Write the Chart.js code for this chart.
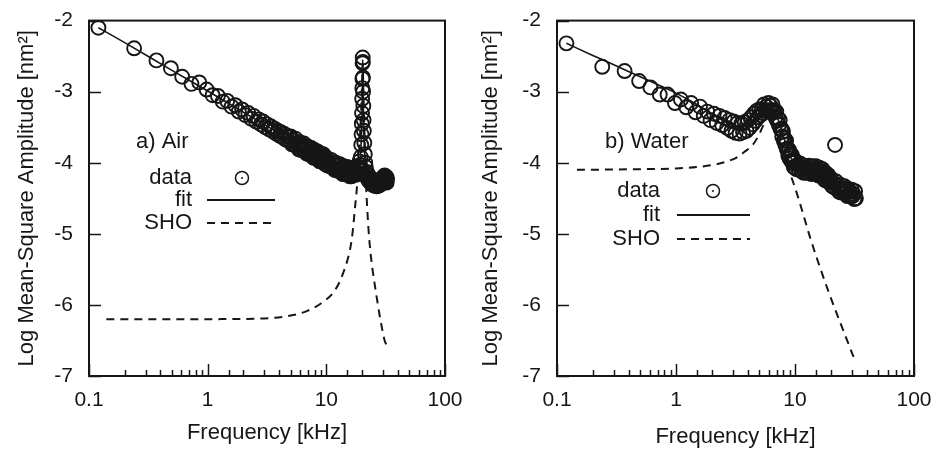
<!doctype html>
<html lang="en">
<head>
<meta charset="utf-8">
<title>Mean-square amplitude spectra</title>
<script src="https://cdn.jsdelivr.net/npm/chart.js@4.4.1/dist/chart.umd.min.js"></script>
<style>
  body { margin: 0; background: #fff; }
  .panel { position: absolute; top: 0; width: 469px; height: 453px; }
</style>
</head>
<body>
<div class="panel" style="left:0"><canvas id="air" width="469" height="453"></canvas></div>
<div class="panel" style="left:469px"><canvas id="water" width="469" height="453"></canvas></div>
<script>
// tick labels
const xTickLabels = [0.1, 1, 10, 100];
const yTickLabels = [-7, -6, -5, -4, -3, -2];

// a) Air - measured points
const airFreq = [0.12,0.24,0.37,0.49,0.61,0.73,0.85,0.98,1.10,1.22,1.34,1.46,1.59,1.71,1.83,1.95,2.08,2.20,2.32,2.44,
  2.56,2.69,2.81,2.93,3.05,3.17,3.30,3.42,3.54,3.66,3.78,3.91,4.03,4.15,4.27,4.39,4.52,4.64,4.76,4.88,
  5.00,5.13,5.25,5.37,5.49,5.62,5.74,5.86,5.98,6.10,6.23,6.35,6.47,6.59,6.71,6.84,6.96,7.08,7.20,7.32,
  7.45,7.57,7.69,7.81,7.93,8.06,8.18,8.30,8.42,8.54,8.67,8.79,8.91,9.03,9.15,9.28,9.40,9.52,9.64,9.77,9.89,
  10.0,10.25,10.5,10.75,11.0,11.25,11.5,11.75,12.0,12.25,12.5,12.75,13.0,13.25,13.5,13.75,14.0,14.25,14.5,14.75,
  15.0,15.25,15.5,15.75,16.0,16.25,16.5,16.75,17.0,17.25,17.5,17.75,18.0,18.25,18.5,18.75,19.0,19.25,19.5,
  19.7,19.8,19.9,20.0,20.05,20.1,20.15,20.2,20.25,20.3,20.35,20.4,20.5,20.6,20.7,20.9,21.1,21.3,
  21.5,21.75,22.0,22.25,22.5,22.75,23.0,23.25,23.5,23.75,24.0,24.25,24.5,24.75,25.0,25.25,25.5,25.75,26.0,26.25,
  26.5,26.75,27.0,27.25,27.5,27.75,28.0,28.25,28.5,28.75,29.0,29.25,29.5,29.75,30.0,30.25,30.5,30.75,31.0,31.25,
  31.5,31.75,32.0,32.25,32.5];
const airAmp = [-2.10,-2.39,-2.56,-2.67,-2.79,-2.89,-2.87,-2.97,-3.05,-3.06,-3.14,-3.13,-3.21,-3.19,-3.28,-3.25,-3.33,-3.30,-3.38,-3.34,
  -3.42,-3.39,-3.46,-3.42,-3.50,-3.46,-3.53,-3.49,-3.56,-3.52,-3.59,-3.55,-3.62,-3.57,-3.64,-3.59,-3.67,-3.62,-3.69,-3.64,
  -3.63,-3.74,-3.68,-3.75,-3.66,-3.76,-3.73,-3.81,-3.71,-3.82,-3.75,-3.82,-3.73,-3.83,-3.79,-3.87,-3.77,-3.88,-3.81,-3.88,
  -3.79,-3.88,-3.85,-3.93,-3.82,-3.93,-3.87,-3.93,-3.84,-3.93,-3.90,-3.98,-3.87,-3.98,-3.91,-3.98,-3.88,-3.98,-3.95,-4.02,-3.92,
  -3.93,-4.04,-3.98,-4.05,-3.96,-4.06,-4.02,-4.10,-4.00,-4.11,-4.04,-4.11,-4.02,-4.11,-4.08,-4.16,-4.05,-4.16,-4.09,-4.16,
  -4.06,-4.16,-4.12,-4.19,-4.09,-4.19,-4.12,-4.17,-4.07,-4.15,-4.11,-4.17,-4.05,-4.14,-4.06,-4.10,-3.98,-4.03,-3.92,
  -3.75,-3.60,-3.45,-3.30,-3.10,-2.95,-2.82,-2.60,-2.52,-2.58,-2.80,-3.00,-3.20,-3.40,-3.55,-3.72,-3.88,-4.00,
  -4.06,-4.15,-4.13,-4.22,-4.17,-4.25,-4.20,-4.27,-4.21,-4.29,-4.23,-4.30,-4.24,-4.31,-4.25,-4.32,-4.26,-4.32,-4.26,-4.33,
  -4.26,-4.33,-4.26,-4.32,-4.26,-4.32,-4.25,-4.31,-4.24,-4.30,-4.23,-4.29,-4.22,-4.28,-4.21,-4.27,-4.19,-4.26,-4.18,-4.26,
  -4.19,-4.27,-4.20,-4.28,-4.22];
// a) Air - fit and SHO curves
const airFitFreq = [0.12,0.2,0.5,1,2,5,10,15,17,18,19,19.5,19.8,20.0,20.15,20.25,20.35,20.5,20.7,21.0,21.5,22.5,24,27,30,32.5];
const airFit = [-2.10,-2.31,-2.70,-2.99,-3.29,-3.68,-3.98,-4.13,-4.13,-4.10,-3.98,-3.82,-3.60,-3.30,-2.90,-2.55,-2.80,-3.20,-3.55,-3.85,-4.08,-4.20,-4.25,-4.27,-4.24,-4.23];
const airShoFreq = [0.14,1,3,5,7,9,11.4,13,13.8,15,15.8,16.6,17.4,18.2,19.0,19.6,20.0,20.25,20.5,21.0,21.5,22.3,23.2,24.5,26.4,28.5,31.0,32.0];
const airSho = [-6.20,-6.20,-6.19,-6.15,-6.08,-5.98,-5.83,-5.67,-5.56,-5.38,-5.23,-5.00,-4.65,-4.30,-3.80,-3.30,-2.90,-2.60,-2.95,-3.60,-4.20,-4.75,-5.15,-5.50,-5.86,-6.20,-6.50,-6.56];

// b) Water - measured points
const waterFreq = [0.12,0.24,0.37,0.49,0.61,0.73,0.85,0.98,1.10,1.22,1.34,1.46,1.59,1.71,1.83,1.95,2.08,2.20,2.32,2.44,
  2.56,2.69,2.81,2.93,3.05,3.17,3.30,3.42,3.54,3.66,3.78,3.91,4.03,4.15,4.27,4.39,4.52,4.64,4.76,4.88,
  5.00,5.13,5.25,5.37,5.49,5.62,5.74,5.86,5.98,6.10,6.23,6.35,6.47,6.59,6.71,6.84,6.96,7.08,7.20,7.32,
  7.45,7.57,7.69,7.81,7.93,8.06,8.18,8.30,8.42,8.54,8.67,8.79,8.91,9.03,9.15,9.28,9.40,9.52,9.64,9.77,9.89,
  10.0,10.25,10.5,10.75,11.0,11.25,11.5,11.75,12.0,12.25,12.5,12.75,13.0,13.25,13.5,13.75,14.0,14.25,14.5,14.75,
  15.0,15.25,15.5,15.75,16.0,16.25,16.5,16.75,17.0,17.25,17.5,17.75,18.0,18.25,18.5,18.75,19.0,19.25,19.5,
  20.0,20.5,21.0,21.5,22.0,22.5,23.0,23.5,24.0,24.5,25.0,25.5,26.0,26.5,27.0,27.5,28.0,28.5,29.0,29.5,
  30.0,30.5,31.0,31.5,32.0,32.5,21.7];
const waterAmp = [-2.32,-2.65,-2.71,-2.85,-2.94,-3.04,-3.04,-3.16,-3.11,-3.22,-3.16,-3.29,-3.21,-3.34,-3.28,-3.40,-3.31,-3.44,-3.34,-3.47,
  -3.37,-3.51,-3.40,-3.55,-3.42,-3.58,-3.44,-3.59,-3.45,-3.57,-3.43,-3.55,-3.40,-3.51,-3.36,-3.46,-3.31,-3.41,-3.27,-3.36,
  -3.25,-3.33,-3.25,-3.30,-3.18,-3.26,-3.21,-3.28,-3.16,-3.26,-3.20,-3.27,-3.18,-3.28,-3.26,-3.36,-3.28,-3.41,-3.37,-3.47,
  -3.40,-3.53,-3.52,-3.63,-3.56,-3.69,-3.66,-3.75,-3.69,-3.81,-3.80,-3.90,-3.82,-3.94,-3.89,-3.97,-3.89,-4.00,-3.97,-4.06,-3.96,
  -3.98,-4.09,-4.03,-4.10,-4.01,-4.10,-4.07,-4.14,-4.04,-4.14,-4.07,-4.14,-4.04,-4.13,-4.09,-4.16,-4.05,-4.15,-4.09,-4.15,
  -4.05,-4.14,-4.11,-4.18,-4.07,-4.18,-4.12,-4.18,-4.09,-4.19,-4.16,-4.24,-4.14,-4.25,-4.19,-4.26,-4.17,-4.27,-4.24,
  -4.22,-4.33,-4.28,-4.35,-4.26,-4.36,-4.33,-4.41,-4.31,-4.42,-4.36,-4.42,-4.33,-4.43,-4.40,-4.47,-4.37,-4.47,-4.41,-4.47,
  -4.38,-4.47,-4.44,-4.51,-4.40,-4.50,-3.75];
// b) Water - fit and SHO curves
const waterFitFreq = [0.12,0.2,0.3,0.5,0.7,1,1.5,2,2.5,3,3.5,4,4.5,5,5.5,6,6.5,7,7.5,8,9,10,12,15,20,25,32.5];
const waterFit = [-2.32,-2.49,-2.62,-2.79,-2.90,-3.02,-3.18,-3.31,-3.41,-3.47,-3.49,-3.46,-3.39,-3.30,-3.22,-3.19,-3.23,-3.33,-3.48,-3.63,-3.88,-4.02,-4.09,-4.12,-4.29,-4.39,-4.46];
const waterShoFreq = [0.147,0.5,1,1.5,2.2,2.8,3.2,3.8,4.45,5.0,5.5,6.0,6.5,7.0,7.5,8.0,8.7,10,11.7,13.5,16.2,19,22.4,26,30.7,31.9];
const waterSho = [-4.10,-4.09,-4.08,-4.06,-4.02,-3.97,-3.93,-3.84,-3.74,-3.60,-3.45,-3.35,-3.42,-3.60,-3.78,-3.92,-4.07,-4.35,-4.72,-5.07,-5.47,-5.80,-6.12,-6.40,-6.71,-6.78];

const INK = '#161616';
const FONT = "'Liberation Sans', Arial, Helvetica, sans-serif";

function pts(xs, ys) {
  return xs.map((x, i) => ({x: x, y: ys[i]}));
}

// frame, inward ticks and the in-plot key
const framePlugin = {
  id: 'frame',
  afterDatasetsDraw(chart, args, o) {
    const ctx = chart.ctx;
    const a = chart.chartArea;
    const xs = chart.scales.x, ys = chart.scales.y;
    ctx.save();
    ctx.strokeStyle = INK;
    ctx.lineWidth = 1.5;
    ctx.beginPath();
    xs.ticks.forEach(t => {
      const px = Math.round(xs.getPixelForValue(t.value)) + 0.5;
      const major = Math.abs(Math.log10(t.value) - Math.round(Math.log10(t.value))) < 1e-6;
      ctx.moveTo(px, a.bottom);
      ctx.lineTo(px, a.bottom - (major ? 12 : 6));
    });
    ys.ticks.forEach(t => {
      const py = Math.round(ys.getPixelForValue(t.value)) + 0.5;
      ctx.moveTo(a.left, py);
      ctx.lineTo(a.left + 12, py);
    });
    ctx.stroke();
    ctx.lineWidth = 2;
    ctx.strokeRect(a.left, a.top, a.right - a.left, a.bottom - a.top);

    // key
    ctx.fillStyle = INK;
    ctx.font = '22px ' + FONT;
    ctx.textBaseline = 'middle';
    ctx.textAlign = 'left';
    ctx.fillText(o.label, o.labelX, o.labelY);
    ctx.textAlign = 'right';
    ['data', 'fit', 'SHO'].forEach((s, i) => ctx.fillText(s, o.textRight, o.rows[i]));
    ctx.lineWidth = 1.5;
    ctx.beginPath();
    ctx.arc(o.markX, o.rows[0], 6.5, 0, Math.PI * 2);
    ctx.stroke();
    ctx.beginPath();
    ctx.arc(o.markX, o.rows[0], 1, 0, Math.PI * 2);
    ctx.fill();
    ctx.lineWidth = 2;
    ctx.beginPath();
    ctx.moveTo(o.lineFrom, o.rows[1]);
    ctx.lineTo(o.lineTo, o.rows[1]);
    ctx.stroke();
    ctx.setLineDash([8, 6]);
    ctx.beginPath();
    ctx.moveTo(o.lineFrom, o.rows[2]);
    ctx.lineTo(o.lineTo, o.rows[2]);
    ctx.stroke();
    ctx.restore();
  }
};

function makePanel(id, freq, amp, fitF, fit, shoF, sho, p) {
  new Chart(document.getElementById(id), {
    type: 'scatter',
    data: {
      datasets: [
        { label: 'fit', data: pts(fitF, fit), showLine: true, pointRadius: 0,
          borderColor: INK, borderWidth: 1.6, cubicInterpolationMode: 'monotone' },
        { label: 'SHO', data: pts(shoF, sho), showLine: true, pointRadius: 0,
          borderColor: INK, borderWidth: 2, borderDash: [8, 6], cubicInterpolationMode: 'monotone' },
        { label: 'data', data: pts(freq, amp), showLine: false, pointStyle: 'circle',
          pointRadius: 7, pointBorderWidth: 1.9, pointBorderColor: INK,
          pointBackgroundColor: 'rgba(0,0,0,0)' }
      ]
    },
    options: {
      responsive: false,
      animation: false,
      devicePixelRatio: 1,
      layout: { padding: { left: 0, top: p.top, right: 24, bottom: 0 } },
      scales: {
        x: {
          type: 'logarithmic', min: 0.1, max: 100,
          grid: { display: false }, border: { display: false },
          ticks: {
            autoSkip: false, maxRotation: 0, padding: 4, color: INK,
            font: { family: FONT, size: 21 },
            callback: v => {
              const hit = xTickLabels.find(l => Math.abs(Math.log10(v) - Math.log10(l)) < 1e-6);
              return hit === undefined ? '' : String(hit);
            }
          },
          title: { display: true, text: 'Frequency [kHz]', color: INK,
            font: { family: FONT, size: 22 }, padding: { top: 0, bottom: p.xTitlePad } },
          afterFit: s => { s.height = 77; }
        },
        y: {
          min: -7, max: -2,
          grid: { display: false }, border: { display: false },
          ticks: {
            stepSize: 1, padding: p.yTickPad, color: INK,
            font: { family: FONT, size: 21 },
            callback: v => yTickLabels.includes(v) ? String(v) : ''
          },
          title: { display: true, text: 'Log Mean-Square Amplitude [nm²]', color: INK,
            font: { family: FONT, size: 22 }, padding: { top: p.yTitlePad, bottom: 0 } },
          afterFit: s => { s.width = p.left; }
        }
      },
      plugins: {
        legend: { display: false },
        tooltip: { enabled: false },
        frame: p.key
      }
    },
    plugins: [framePlugin]
  });
}

makePanel('air', airFreq, airAmp, airFitFreq, airFit, airShoFreq, airSho, {
  top: 20, left: 89, yTickPad: 8, yTitlePad: 14, xTitlePad: 7,
  key: { label: 'a) Air', labelX: 136, labelY: 142, textRight: 192, rows: [178, 200, 223],
         markX: 242, lineFrom: 207, lineTo: 275 }
});
makePanel('water', waterFreq, waterAmp, waterFitFreq, waterFit, waterShoFreq, waterSho, {
  top: 19, left: 88, yTickPad: 8, yTitlePad: 9, xTitlePad: 3,
  key: { label: 'b) Water', labelX: 136, labelY: 142, textRight: 191, rows: [191, 215, 239],
         markX: 244, lineFrom: 208, lineTo: 281 }
});
</script>
</body>
</html>
